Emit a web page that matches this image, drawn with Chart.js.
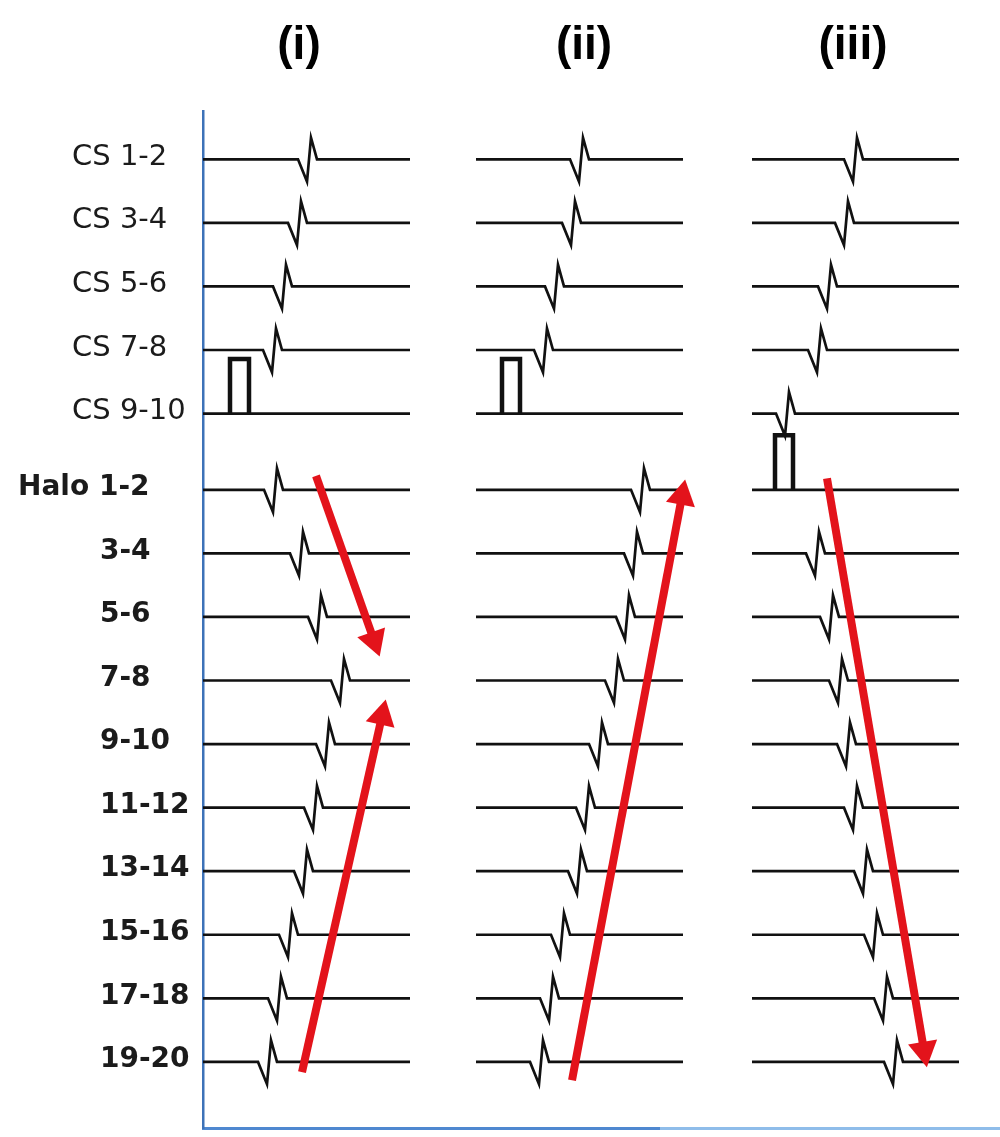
<!DOCTYPE html>
<html>
<head>
<meta charset="utf-8">
<script src="https://cdn.jsdelivr.net/npm/chart.js@4.4.1/dist/chart.umd.min.js"></script>
<style>
  html, body { margin: 0; padding: 0; background: #fff; }
</style>
</head>
<body>
<canvas id="chart" width="1000" height="1137"></canvas>
<script>
// channels, top to bottom
const channels = ["CS 1-2", "CS 3-4", "CS 5-6", "CS 7-8", "CS 9-10",
  "Halo 1-2", "3-4", "5-6", "7-8", "9-10", "11-12", "13-14", "15-16", "17-18", "19-20"];
const panelNames = ["(i)", "(ii)", "(iii)"];

// local activation (main negative deflection), ms after start of each panel
// null = paced channel, no local electrogram
const actI   = [104, 94, 79, 69, null, 70, 96, 114, 137, 122, 110, 100, 85, 74, 64];
const actII  = [103, 95, 78, 67, null, 164, 157, 149, 138, 122, 109, 101, 84, 73, 63];
const actIII = [101, 92, 75, 65, 33, null, 63, 77, 86, 94, 101, 111, 121, 131, 141];

// pacing stimulus: [channel index, on (ms), off (ms)]
const paceI   = [4, 27, 46];
const paceII  = [4, 26, 44];
const paceIII = [5, 23, 41];

// activation arrows: [t tail, row tail, t head, row head]
const arrowsI   = [[113, 4.98, 171, 7.57], [99, 14.36, 179, 8.76]];
const arrowsII  = [[96, 14.49, 206, 5.30]];
const arrowsIII = [[75, 5.02, 172, 14.02]];

// layout of the three panels on the shared time axis
const panelStart = [0, 273, 549];
const sweep = 207;
const titleAt = [96, 381, 650];

const INK = "#111111";
const RED = "#e3131b";

const rowY = i => (i < 5 ? i : i + 0.2);

function tracePoints(off, row, t) {
    const y = rowY(row);
    const pts = [{ x: off, y: y }];
    if (t !== null) {
        pts.push({ x: off + t - 9, y: y });
        pts.push({ x: off + t, y: y + 0.35 });
        pts.push({ x: off + t + 4, y: y - 0.34 });
        pts.push({ x: off + t + 10, y: y });
    }
    pts.push({ x: off + sweep, y: y });
    return pts;
}

function pulsePoints(off, p) {
    const y = rowY(p[0]);
    return [
        { x: off + p[1], y: y },
        { x: off + p[1], y: y - 0.86 },
        { x: off + p[2], y: y - 0.86 },
        { x: off + p[2], y: y }
    ];
}

function arrowRotation(c) {
    const d = c.dataset.data;
    const xs = c.chart.scales.x, ys = c.chart.scales.y;
    const dx = xs.getPixelForValue(d[1].x) - xs.getPixelForValue(d[0].x);
    const dy = ys.getPixelForValue(d[1].y) - ys.getPixelForValue(d[0].y);
    return Math.atan2(dx, -dy) * 180 / Math.PI;
}

const datasets = [];
const acts = [actI, actII, actIII];
const paces = [paceI, paceII, paceIII];
const arrows = [arrowsI, arrowsII, arrowsIII];

acts.forEach((act, p) => {
    const off = panelStart[p];
    act.forEach((t, row) => {
        datasets.push({
            data: tracePoints(off, row, t),
            borderColor: INK, borderWidth: 2.7,
            pointRadius: 0, order: 2
        });
    });
    datasets.push({
        data: pulsePoints(off, paces[p]),
        borderColor: INK, borderWidth: 4.5, borderJoinStyle: "miter",
        pointRadius: 0, order: 2
    });
    arrows[p].forEach(a => {
        datasets.push({
            data: [{ x: off + a[0], y: a[1] }, { x: off + a[2], y: a[3] }],
            borderColor: RED, borderWidth: 8, borderCapStyle: "butt",
            pointRadius: [0, 17], pointStyle: "triangle",
            pointBackgroundColor: RED, pointBorderWidth: 0,
            pointRotation: arrowRotation, order: 1
        });
    });
});

// channel names on the left
const rowLabels = {
    id: "rowLabels",
    afterDraw(chart) {
        const { ctx, scales: { y } } = chart;
        ctx.save();
        ctx.fillStyle = "#1b1b1b";
        ctx.textBaseline = "middle";
        ctx.textAlign = "left";
        channels.forEach((name, i) => {
            const py = y.getPixelForValue(rowY(i)) - 2;
            if (name.startsWith("CS")) {
                ctx.font = "29px 'DejaVu Sans'";
                ctx.fillText(name, 72, py);
            } else {
                ctx.font = "bold 28px 'DejaVu Sans'";
                ctx.fillText(name, name.startsWith("Halo") ? 18 : 100, py);
            }
        });
        ctx.restore();
    }
};

const ctx = document.getElementById("chart").getContext("2d");

new Chart(ctx, {
    type: "line",
    data: { datasets: datasets },
    options: {
        responsive: false,
        animation: false,
        events: [],
        layout: { autoPadding: false, padding: { top: 0, left: 203, right: 0, bottom: 9 } },
        elements: { line: { tension: 0, fill: false } },
        plugins: { legend: { display: false }, tooltip: { enabled: false } },
        scales: {
            x: {
                type: "linear", min: 0, max: 797,
                grid: { display: false, drawTicks: false },
                ticks: { display: false },
                border: {
                    width: 3,
                    color: c => {
                        const area = c.chart.chartArea;
                        if (!area) return "#4f88d0";
                        const g = c.chart.ctx.createLinearGradient(area.left, 0, area.right, 0);
                        g.addColorStop(0, "#4f88d0");
                        g.addColorStop(0.573, "#4f88d0");
                        g.addColorStop(0.574, "#8fbdea");
                        g.addColorStop(1, "#8fbdea");
                        return g;
                    }
                }
            },
            top: {
                type: "linear", position: "top", min: 0, max: 797,
                grid: { display: false, drawTicks: false },
                border: { display: false },
                afterBuildTicks: s => { s.ticks = titleAt.map(v => ({ value: v })); },
                afterFit: s => { s.height = 111; },
                ticks: {
                    autoSkip: false, maxRotation: 0, padding: 42, color: "#000",
                    font: { family: "'Liberation Sans Narrow', 'Liberation Sans', sans-serif", size: 46, weight: "bold", lineHeight: 1 },
                    callback: (v, i) => panelNames[i]
                }
            },
            y: {
                type: "linear", reverse: true, min: -0.76, max: 15.24,
                grid: { display: false, drawTicks: false },
                ticks: { display: false },
                border: { width: 2.5, color: "#3d72b8" }
            }
        }
    },
    plugins: [rowLabels]
});
</script>
</body>
</html>
